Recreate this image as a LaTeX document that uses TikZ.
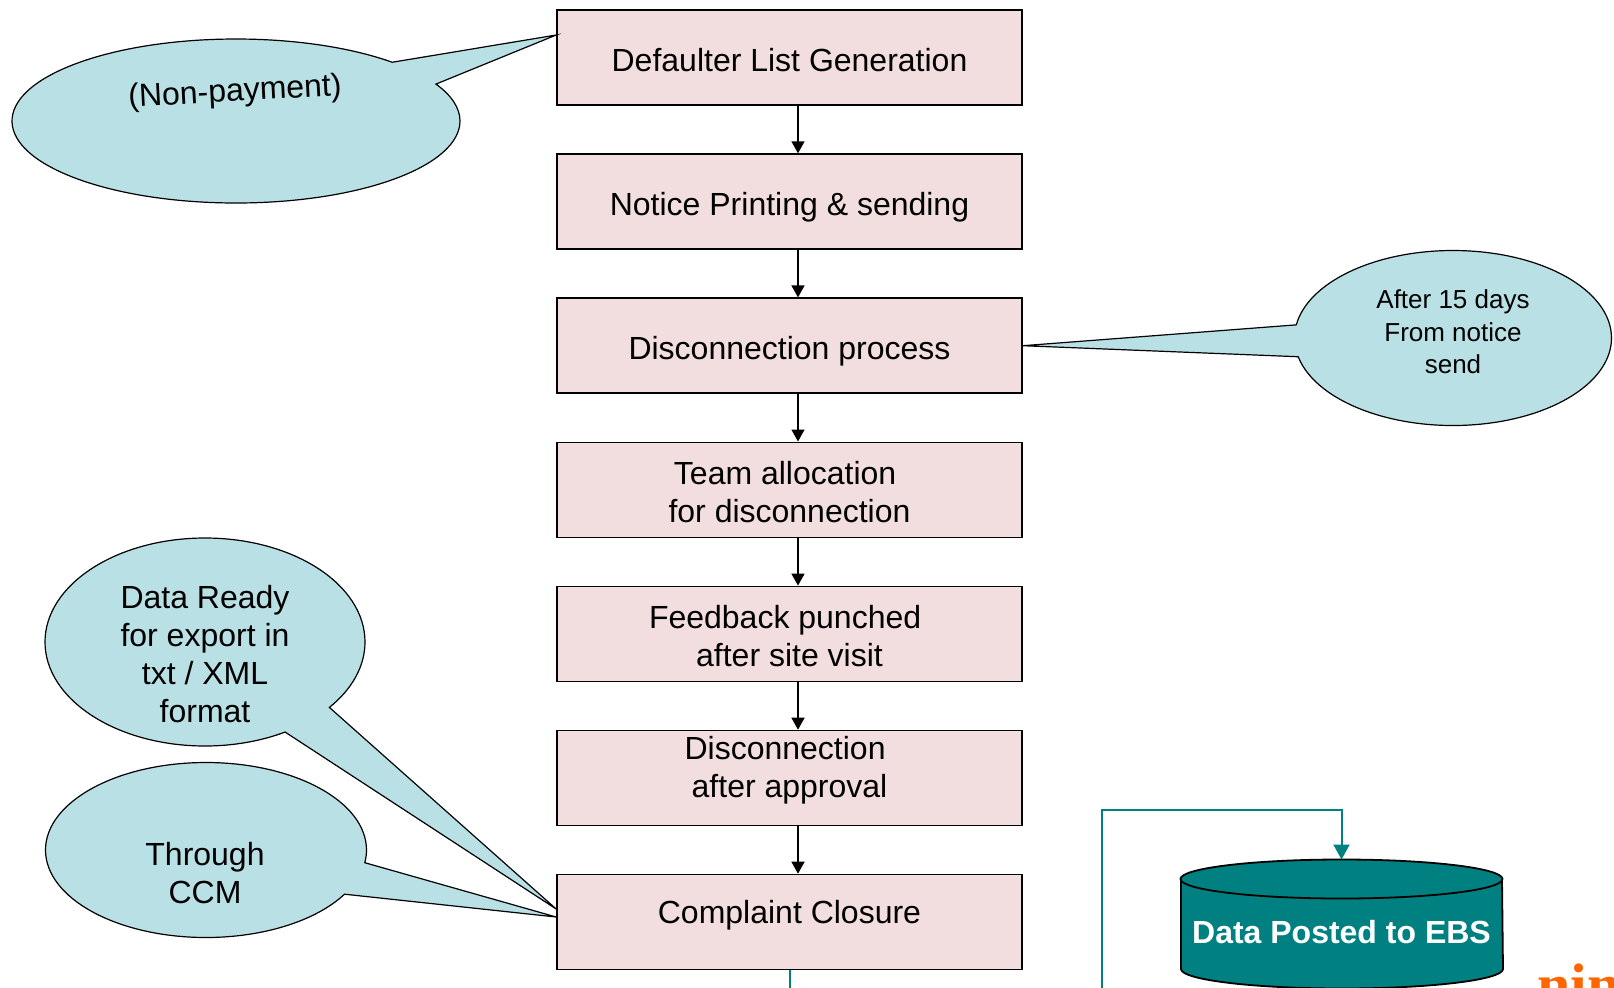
\documentclass[tikz,border=0pt]{standalone}
\usepackage{fontspec}
\setmainfont{Liberation Sans}
\newfontfamily\logofont{Liberation Serif}
\usetikzlibrary{shapes.callouts,arrows.meta,calc}
\definecolor{boxpink}{RGB}{242,222,222}
\definecolor{callblue}{RGB}{185,224,228}
\definecolor{dbteal}{RGB}{0,128,128}
\definecolor{logoorange}{RGB}{255,102,0}
\begin{document}
\begin{tikzpicture}[x=0.5pt,y=-0.5pt,
  stepbox/.style={draw=black,line width=0.8pt,fill=boxpink,minimum width=232.5pt,minimum height=47.5pt,inner sep=0pt,align=center,font=\fontsize{16}{19}\selectfont},
  oneline/.style={text height=13.5pt,text depth=0pt},
  steptext/.style={align=center,inner sep=0pt,font=\fontsize{16}{19}\selectfont},
  flow/.style={-{Triangle[width=6.5pt,length=6pt]},line width=0.75pt},
  bubble/.style={ellipse callout,draw=black,line width=0.6pt,fill=callblue,inner sep=0pt},
  bubtext/.style={align=center,inner sep=0pt,font=\fontsize{16}{19}\selectfont},
  smalltext/.style={align=center,inner sep=0pt,font=\fontsize{13}{16.2}\selectfont},
  tealflow/.style={draw=dbteal,line width=1pt,-{Triangle[width=8pt,length=7.5pt]}},
]
\useasboundingbox (0,0) rectangle (1614,987);
\clip (0,0) rectangle (1614,987);

% process boxes
\node[stepbox,oneline] (b1) at (789.5,57.5) {Defaulter List Generation};
\node[stepbox,oneline] (b2) at (789.5,201.6) {Notice Printing \& sending};
\node[stepbox,oneline] (b3) at (789.5,345.7) {Disconnection process};
\node[stepbox,label={[steptext,yshift=-1pt]center:Team allocation\kern4.4pt\\for disconnection}] (b4) at (789.5,489.8) {};
\node[stepbox,label={[steptext,yshift=-1pt]center:Feedback punched\kern4.4pt\\after site visit}] (b5) at (789.5,633.9) {};
\node[stepbox,label={[steptext,yshift=3.7pt]center:Disconnection\kern4.4pt\\after approval}] (b6) at (789.5,778) {};
\node[stepbox,label={[steptext,yshift=3.6pt]center:Complaint Closure}] (b7) at (789.5,922) {};

\coordinate (ax) at (798,0);
\foreach \a/\b in {b1/b2,b2/b3,b3/b4,b4/b5,b5/b6,b6/b7}
  \draw[flow] (\a.south -| ax) -- (\b.north -| ax);

% callouts
\node[bubble,minimum width=224pt,minimum height=82pt,
  callout absolute pointer={($(b1.west)+(0,-22.5)$)},callout pointer arc=19] (c1) at (236,121) {};
\node[bubtext,rotate=3] (t1) at (235,93) {(Non-payment)};

\node[bubble,minimum width=158.5pt,minimum height=87.5pt,
  callout absolute pointer={(b3.east)},callout pointer arc=21] (c2) at (1453,338) {};
\node[smalltext] (t2) at (1453,332) {After 15 days\\From notice\\send};

\node[bubble,minimum width=160pt,minimum height=104pt,
  callout absolute pointer={($(b7.west)+(0,-13)$)},callout pointer arc=21] (c3) at (205,642) {};
\node[bubtext] (t3) at (205,654) {Data Ready\\for export in\\txt / XML\\format};

\node[bubble,minimum width=160.5pt,minimum height=87.5pt,
  callout absolute pointer={($(b7.west)+(0,-5)$)},callout pointer arc=22] (c4) at (206,850) {};
\node[bubtext] (t4) at (205,873) {Through\\CCM};

% database cylinder
\fill[dbteal] (1181,879) -- (1181,969) arc[start angle=180,end angle=360,x radius=80.5pt,y radius=9.75pt] -- (1502,879) -- cycle;
\draw[line width=0.9pt] (1181,879) -- (1181,969) arc[start angle=180,end angle=360,x radius=80.5pt,y radius=9.75pt] -- (1502,879);
\draw[line width=0.9pt,fill=dbteal] (1341.5,879) ellipse[x radius=80.5pt,y radius=9.75pt];
\node[text=white,inner sep=0pt,font=\bfseries\fontsize{16}{19}\selectfont] (db) at (1341.5,932) {Data Posted to EBS};
\coordinate (dbtop) at (1341.5,859.5);

% teal connector
\coordinate (low) at (1102,1015);
\coordinate (bend) at (1102,810);
\draw[tealflow] (b7.south) |- (low) -- (bend) -| (dbtop);

% logo fragment
\node[anchor=base west,inner sep=0pt,text=logoorange,font=\logofont\bfseries\fontsize{30}{30}\selectfont] (logo) at (1537,1005) {nin};
\end{tikzpicture}
\end{document}
